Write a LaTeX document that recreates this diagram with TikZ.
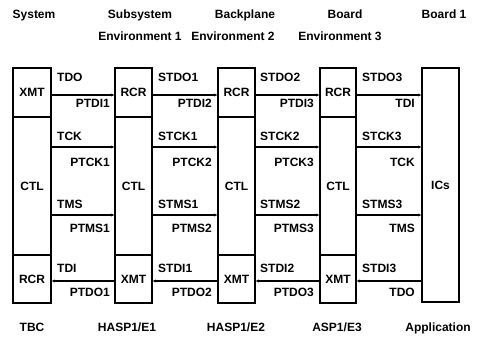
\documentclass[tikz,border=0pt]{standalone}
\usepackage{fontspec}
\setmainfont{Liberation Sans}
\usetikzlibrary{arrows.meta}
\begin{document}
\begin{tikzpicture}[x=1pt,y=-1pt,
  every node/.style={font=\fontsize{12}{14}\selectfont\bfseries, inner sep=0pt},
  unit/.style={draw, line width=1.7pt, minimum width=37pt},
  topbox/.style={unit, minimum height=49pt},
  midbox/.style={unit, minimum height=138pt},
  botbox/.style={unit, minimum height=48pt},
  sig/.style={line width=1.4pt},
  fwd/.style={sig, -{Stealth[length=3pt,width=3pt]}},
  bwd/.style={sig, {Stealth[length=3pt,width=3pt]}-},
  above lbl/.style={anchor=base west},
  below lbl/.style={anchor=base east},
  hdr/.style={anchor=base}]
\useasboundingbox (0,0) rectangle (477,337);

% columns
\node[topbox,minimum width=38pt] (a1) at (32,92.5) {XMT};
\node[midbox,minimum width=38pt] (a2) at (32,186) {CTL};
\node[botbox,minimum width=38pt] (a3) at (32,279) {RCR};

\node[topbox] (b1) at (133.5,92.5) {RCR};
\node[midbox] (b2) at (133.5,186) {CTL};
\node[botbox] (b3) at (133.5,279) {XMT};

\node[topbox] (c1) at (236.5,92.5) {RCR};
\node[midbox] (c2) at (236.5,186) {CTL};
\node[botbox] (c3) at (236.5,279) {XMT};

\node[topbox,minimum width=36pt] (d1) at (338,92.5) {RCR};
\node[midbox,minimum width=36pt] (d2) at (338,186) {CTL};
\node[botbox,minimum width=36pt] (d3) at (338,279) {XMT};

\node[unit, minimum height=234pt] (e) at (440.5,185) {ICs};

% signal rows
\coordinate (r1) at (0,95);
\coordinate (r2) at (0,147);
\coordinate (r3) at (0,215);
\coordinate (r4) at (0,281);

\draw[fwd] (a1.east |- r1) -- (b1.west |- r1);
\draw[fwd] (a2.east |- r2) -- (b2.west |- r2);
\draw[fwd] (a2.east |- r3) -- (b2.west |- r3);
\draw[bwd] (a3.east |- r4) -- (b3.west |- r4);

\draw[fwd] (b1.east |- r1) -- (c1.west |- r1);
\draw[fwd] (b2.east |- r2) -- (c2.west |- r2);
\draw[fwd] (b2.east |- r3) -- (c2.west |- r3);
\draw[bwd] (b3.east |- r4) -- (c3.west |- r4);

\draw[fwd] (c1.east |- r1) -- (d1.west |- r1);
\draw[fwd] (c2.east |- r2) -- (d2.west |- r2);
\draw[fwd] (c2.east |- r3) -- (d2.west |- r3);
\draw[bwd] (c3.east |- r4) -- (d3.west |- r4);

\draw[fwd] (d1.east |- r1) -- (e.west |- r1);
\draw[fwd] (d2.east |- r2) -- (e.west |- r2);
\draw[fwd] (d2.east |- r3) -- (e.west |- r3);
\draw[bwd] (d3.east |- r4) -- (e.west |- r4);

% labels gap 1
\node[above lbl] (l1a) at (57,82) {TDO};
\node[below lbl] (l1b) at (110,107) {PTDI1};
\node[above lbl] (l1c) at (57,140) {TCK};
\node[below lbl] (l1d) at (110,166) {PTCK1};
\node[above lbl] (l1e) at (57,208) {TMS};
\node[below lbl] (l1f) at (110,232) {PTMS1};
\node[above lbl] (l1g) at (57,272) {TDI};
\node[below lbl] (l1h) at (110,296) {PTDO1};
% gap 2
\node[above lbl] (l2a) at (158,82) {STDO1};
\node[below lbl] (l2b) at (212,107) {PTDI2};
\node[above lbl] (l2c) at (158,140) {STCK1};
\node[below lbl] (l2d) at (212,166) {PTCK2};
\node[above lbl] (l2e) at (158,208) {STMS1};
\node[below lbl] (l2f) at (212,232) {PTMS2};
\node[above lbl] (l2g) at (158,272) {STDI1};
\node[below lbl] (l2h) at (212,296) {PTDO2};
% gap 3
\node[above lbl] (l3a) at (260,82) {STDO2};
\node[below lbl] (l3b) at (314,107) {PTDI3};
\node[above lbl] (l3c) at (260,140) {STCK2};
\node[below lbl] (l3d) at (314,166) {PTCK3};
\node[above lbl] (l3e) at (260,208) {STMS2};
\node[below lbl] (l3f) at (314,232) {PTMS3};
\node[above lbl] (l3g) at (260,272) {STDI2};
\node[below lbl] (l3h) at (314,296) {PTDO3};
% gap 4
\node[above lbl] (l4a) at (362,82) {STDO3};
\node[below lbl] (l4b) at (415,107) {TDI};
\node[above lbl] (l4c) at (362,140) {STCK3};
\node[below lbl] (l4d) at (415,166) {TCK};
\node[above lbl] (l4e) at (362,208) {STMS3};
\node[below lbl] (l4f) at (415,232) {TMS};
\node[above lbl] (l4g) at (362,272) {STDI3};
\node[below lbl] (l4h) at (415,296) {TDO};

% headers
\node[hdr] (h1) at (34,19) {System};
\node[hdr] (h2) at (140,19) {Subsystem};
\node[hdr] (h3) at (245,19) {Backplane};
\node[hdr] (h4) at (345,19) {Board};
\node[hdr] (h5) at (444,19) {Board 1};
\node[hdr] (h6) at (140,41) {Environment 1};
\node[hdr] (h7) at (233,41) {Environment 2};
\node[hdr] (h8) at (340,41) {Environment 3};

% footers
\node[hdr] (f1) at (32,331) {TBC};
\node[hdr] (f2) at (127,331) {HASP1/E1};
\node[hdr] (f3) at (236,331) {HASP1/E2};
\node[hdr] (f4) at (337,331) {ASP1/E3};
\node[hdr] (f5) at (438,331) {Application};
\end{tikzpicture}
\end{document}
